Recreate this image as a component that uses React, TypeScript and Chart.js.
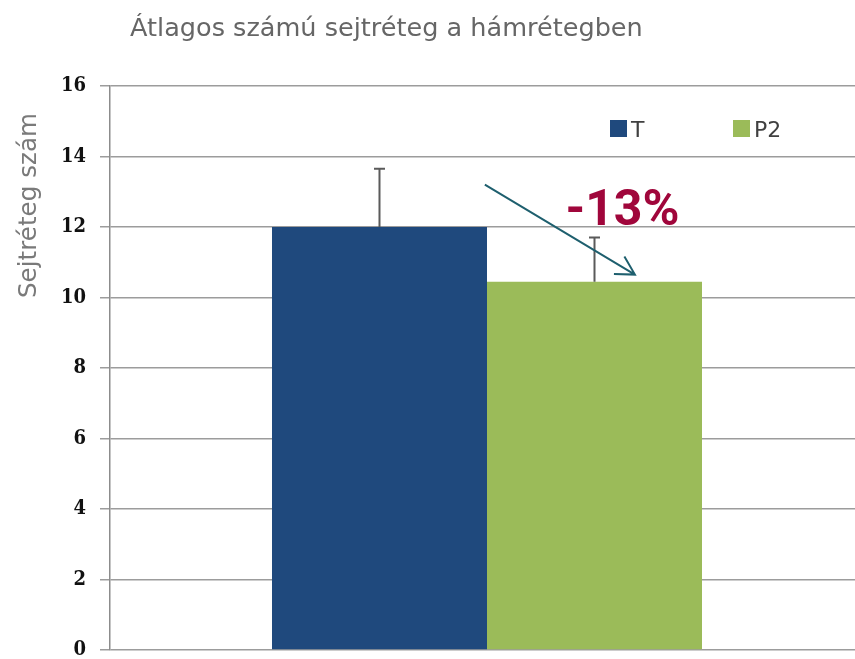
import React, { useEffect, useRef } from "react";
import { Chart, registerables } from "chart.js";

Chart.register(...registerables);

const categories: string[] = [""];
const seriesNames: string[] = ["T", "P2"];
const seriesValues: number[] = [12.0, 10.45];
const seriesErrors: number[] = [1.65, 1.25];
const seriesColors: string[] = ["#1F497D", "#9BBB59"];
const yTicks: number[] = [0, 2, 4, 6, 8, 10, 12, 14, 16];
const titleText = "Átlagos számú sejtréteg a hámrétegben";
const yTitleText = "Sejtréteg szám";
const changeLabel = "-13%";
// arrow annotation in data values (y) and bar-relative fractions (x)
const arrowStartValue = 13.2;
const arrowEndValue = 10.65;
const labelBaselineValue = 12.05;

const SANS = '"DejaVu Sans", "Noto Sans", sans-serif';

function fitFont(ctx: CanvasRenderingContext2D, text: string, target: number, weight: string, family: string) {
  ctx.font = `${weight} 20px ${family}`;
  const w = ctx.measureText(text).width;
  return (20 * target) / w;
}

const overlayPlugin = {
  id: "overlay",
  afterDatasetsDraw(chart: any) {
    const ctx: CanvasRenderingContext2D = chart.ctx;
    const y = chart.scales.y;
    const barT = chart.getDatasetMeta(0).data[0];
    const barP = chart.getDatasetMeta(1).data[0];
    ctx.save();

    // error bars
    [barT, barP].forEach((bar: any, i: number) => {
      const top = y.getPixelForValue(seriesValues[i] + seriesErrors[i]);
      const base = y.getPixelForValue(seriesValues[i]);
      ctx.strokeStyle = "#5a5a5a";
      ctx.lineWidth = 2;
      ctx.beginPath();
      ctx.moveTo(bar.x, base);
      ctx.lineTo(bar.x, top);
      ctx.moveTo(bar.x - 5.5, top);
      ctx.lineTo(bar.x + 5.5, top);
      ctx.stroke();
    });

    // arrow
    const wT = barT.width;
    const wP = barP.width;
    const sx = barT.x - wT / 2 + 0.99 * wT;
    const sy = y.getPixelForValue(arrowStartValue);
    const ex = barP.x - wP / 2 + 0.688 * wP;
    const ey = y.getPixelForValue(arrowEndValue);
    const ang = Math.atan2(ey - sy, ex - sx);
    ctx.strokeStyle = "#1E5F6E";
    ctx.lineWidth = 2;
    ctx.beginPath();
    ctx.moveTo(sx, sy);
    ctx.lineTo(ex, ey);
    const hl = 21;
    const ha = (29 * Math.PI) / 180;
    ctx.moveTo(ex - hl * Math.cos(ang - ha), ey - hl * Math.sin(ang - ha));
    ctx.lineTo(ex, ey);
    ctx.lineTo(ex - hl * Math.cos(ang + ha), ey - hl * Math.sin(ang + ha));
    ctx.stroke();

    // -13% label
    ctx.fillStyle = "#A0063B";
    ctx.font = 'bold 50px Roboto, "DejaVu Sans", sans-serif';
    ctx.textAlign = "center";
    ctx.textBaseline = "alphabetic";
    ctx.fillText(changeLabel, barP.x - wP / 2 + 0.63 * wP, y.getPixelForValue(labelBaselineValue));

    // title
    const tSize = fitFont(ctx, titleText, 513, "normal", SANS);
    ctx.font = `normal ${tSize}px ${SANS}`;
    ctx.fillStyle = "#666666";
    ctx.textAlign = "left";
    ctx.fillText(titleText, 130, 36);

    // y title
    const ySize = fitFont(ctx, yTitleText, 185, "normal", SANS);
    ctx.save();
    ctx.translate(36, 298);
    ctx.rotate(-Math.PI / 2);
    ctx.font = `normal ${ySize}px ${SANS}`;
    ctx.fillStyle = "#7a7a7a";
    ctx.textAlign = "left";
    ctx.fillText(yTitleText, 0, 0);
    ctx.restore();

    // legend
    const legendX = [610, 733];
    ctx.font = `normal 22px ${SANS}`;
    ctx.textAlign = "left";
    seriesNames.forEach((name, i) => {
      ctx.fillStyle = seriesColors[i];
      ctx.fillRect(legendX[i], 120, 17, 17);
      ctx.fillStyle = "#404040";
      ctx.fillText(name, legendX[i] + 21, 137);
    });

    ctx.restore();
  },
};

export default function App() {
  const ref = useRef<HTMLCanvasElement | null>(null);
  useEffect(() => {
    if (!ref.current) return;
    const chart = new Chart(ref.current, {
      type: "bar",
      data: {
        labels: categories,
        datasets: seriesNames.map((name, i) => ({
          label: name,
          data: [seriesValues[i]],
          backgroundColor: seriesColors[i],
          borderWidth: 0,
          barPercentage: 1,
          categoryPercentage: 0.5703,
        })),
      },
      options: {
        animation: false,
        responsive: false,
        maintainAspectRatio: false,
        layout: { padding: { left: 0, top: 86, right: 2, bottom: 9 } },
        plugins: {
          legend: { display: false },
          title: { display: false },
          tooltip: { enabled: false },
        },
        scales: {
          x: { display: false },
          y: {
            min: 0,
            max: 16,
            afterFit: (scale: any) => {
              scale.width = 110;
              scale.paddingTop = 0;
              scale.paddingBottom = 0;
            },
            afterBuildTicks: (scale: any) => {
              scale.ticks = yTicks.map((v) => ({ value: v }));
            },
            grid: {
              color: "#9c9c9c",
              lineWidth: 1.5,
              tickLength: 10,
              drawTicks: true,
            },
            border: { display: true, color: "#8c8c8c", width: 1.5 },
            ticks: {
              padding: 14,
              color: "#111111",
              font: { family: '"DejaVu Serif Condensed", "DejaVu Serif", serif', size: 20, weight: "bold" },
            },
          },
        },
      },
      plugins: [overlayPlugin],
    });
    return () => chart.destroy();
  }, []);
  return (
    <div style={{ position: "absolute", left: 0, top: 0, width: 855, height: 659, overflow: "hidden", background: "#fff" }}>
      <canvas ref={ref} width={866} height={659} style={{ width: 866, height: 659, display: "block" }} />
    </div>
  );
}
